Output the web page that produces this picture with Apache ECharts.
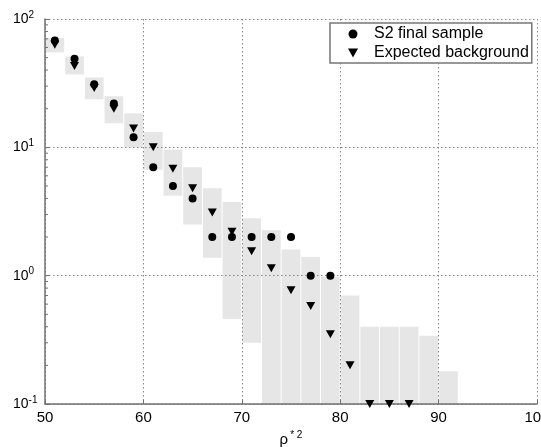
<!DOCTYPE html>
<html>
<head>
<meta charset="utf-8">
<script src="https://cdn.jsdelivr.net/npm/echarts@6/dist/echarts.min.js"></script>
<style>
  html, body { margin: 0; padding: 0; background: #fff; }
  #chart { width: 541px; height: 447px; }
</style>
</head>
<body>
<div id="chart"></div>
<script>
// bin centres (rho*^2), bins are 2 wide
const binCenters = [51, 53, 55, 57, 59, 61, 63, 65, 67, 69, 71, 73, 75, 77, 79, 81, 83, 85, 87, 89, 91];
// grey band of the expected background (0 = reaches below the axis)
const bandLow = [55, 37, 23.7, 15.4, 10, 6.7, 4.2, 2.5, 1.38, 0.46, 0.30, 0, 0, 0, 0, 0, 0, 0, 0, 0, 0];
const bandHigh = [71, 51, 35, 25, 18.4, 13.2, 9.6, 7.0, 4.8, 3.75, 2.8, 2.26, 1.6, 1.4, 0.98, 0.70, 0.40, 0.40, 0.40, 0.34, 0.18];

const sampleX = [51, 53, 55, 57, 59, 61, 63, 65, 67, 69, 71, 73, 75, 77, 79];
const sampleY = [68, 49, 31, 22, 12, 7, 5, 4, 2, 2, 2, 2, 2, 1, 1];

const bgX = [51, 53, 55, 57, 59, 61, 63, 65, 67, 69, 71, 73, 75, 77, 79, 81, 83, 85, 87];
const bgY = [63, 43, 29, 20, 14, 10, 6.8, 4.8, 3.1, 2.2, 1.55, 1.14, 0.77, 0.58, 0.35, 0.2, 0.1, 0.1, 0.1];

const yTickExp = { 0.1: '-1', 1: '0', 10: '1', 100: '2' };

const font = "'Liberation Sans', Arial, Helvetica, sans-serif";
const triPath = 'path://M0,0L10,0L5,9Z';

const bandData = binCenters.map((x, i) => [x, bandLow[i], bandHigh[i]]);
const minorTicks = [];
[0.1, 1, 10].forEach(d => { for (let k = 2; k <= 9; k++) minorTicks.push([50, d * k]); });

const chart = echarts.init(document.getElementById('chart'));
chart.setOption({
  animation: false,
  backgroundColor: '#fff',
  grid: { left: 45, right: 4, top: 19, bottom: 43, outerBoundsMode: 'none', containLabel: false },
  legend: {
    data: [
      { name: 'S2 final sample', icon: 'circle' },
      { name: 'Expected background', icon: triPath }
    ],
    orient: 'vertical',
    left: 330, top: 23,
    itemWidth: 32, itemHeight: 9, itemGap: 3,
    padding: [3, 3, 2, 18],
    backgroundColor: '#fff',
    borderColor: '#777', borderWidth: 1.5,
    textStyle: { fontFamily: font, fontSize: 16, color: '#000', lineHeight: 16 },
    selectedMode: false
  },
  xAxis: {
    type: 'value', min: 50, max: 100, interval: 10, z: 3,
    name: '{b|ρ}{s|* 2}', nameLocation: 'middle', nameGap: 25,
    nameTextStyle: {
      rich: {
        b: { fontFamily: font, fontSize: 15, color: '#000', lineHeight: 18 },
        s: { fontFamily: font, fontSize: 10, color: '#000', lineHeight: 18, padding: [0, 0, 10, 2] }
      }
    },
    axisLine: { lineStyle: { color: '#707070', width: 1.5 } },
    axisTick: { inside: true, length: 4, lineStyle: { color: '#707070' } },
    axisLabel: { fontFamily: font, fontSize: 15, color: '#000', margin: 6 },
    splitLine: { show: true, lineStyle: { color: '#888', type: [1.5, 2.5], width: 1 } }
  },
  yAxis: {
    type: 'log', logBase: 10, min: 0.1, max: 100, z: 3,
    axisLine: { lineStyle: { color: '#707070', width: 1.5 } },
    axisTick: { inside: true, length: 5, lineStyle: { color: '#707070' } },
    axisLabel: {
      align: 'left', margin: 32,
      formatter: v => '{b|10}{s|' + yTickExp[v] + '}',
      rich: {
        b: { fontFamily: font, fontSize: 14, color: '#000', lineHeight: 16 },
        s: { fontFamily: font, fontSize: 10, color: '#000', lineHeight: 16, padding: [0, 0, 8, 0] }
      }
    },
    splitLine: { show: true, lineStyle: { color: '#888', type: [1.5, 2.5], width: 1 } }
  },
  series: [
    {
      type: 'custom', z: 1, silent: true,
      encode: { x: 0, y: 2 },
      data: bandData,
      renderItem: (params, api) => {
        const x = api.value(0), lo = api.value(1), hi = api.value(2);
        const cs = params.coordSys;
        const top = api.coord([x - 0.95, hi]);
        const right = api.coord([x + 0.95, hi])[0];
        const bottom = lo > 0 ? api.coord([x, lo])[1] : cs.y + cs.height;
        return {
          type: 'rect',
          shape: { x: top[0], y: top[1], width: right - top[0], height: bottom - top[1] },
          style: { fill: '#e6e6e6' }
        };
      }
    },
    {
      type: 'custom', z: 4, silent: true,
      encode: { x: 0, y: 1 },
      data: minorTicks,
      renderItem: (params, api) => {
        const p = api.coord([api.value(0), api.value(1)]);
        return {
          type: 'line',
          shape: { x1: p[0], y1: p[1], x2: p[0] + 3, y2: p[1] },
          style: { stroke: '#707070', lineWidth: 1 }
        };
      }
    },
    {
      name: 'S2 final sample', type: 'scatter', z: 5,
      symbol: 'circle', symbolSize: 8,
      itemStyle: { color: '#000', opacity: 1 },
      data: sampleX.map((x, i) => [x, sampleY[i]])
    },
    {
      name: 'Expected background', type: 'scatter', z: 5,
      symbol: triPath, symbolSize: [9, 8],
      itemStyle: { color: '#000', opacity: 1 },
      data: bgX.map((x, i) => [x, bgY[i]])
    }
  ]
});
</script>
</body>
</html>
